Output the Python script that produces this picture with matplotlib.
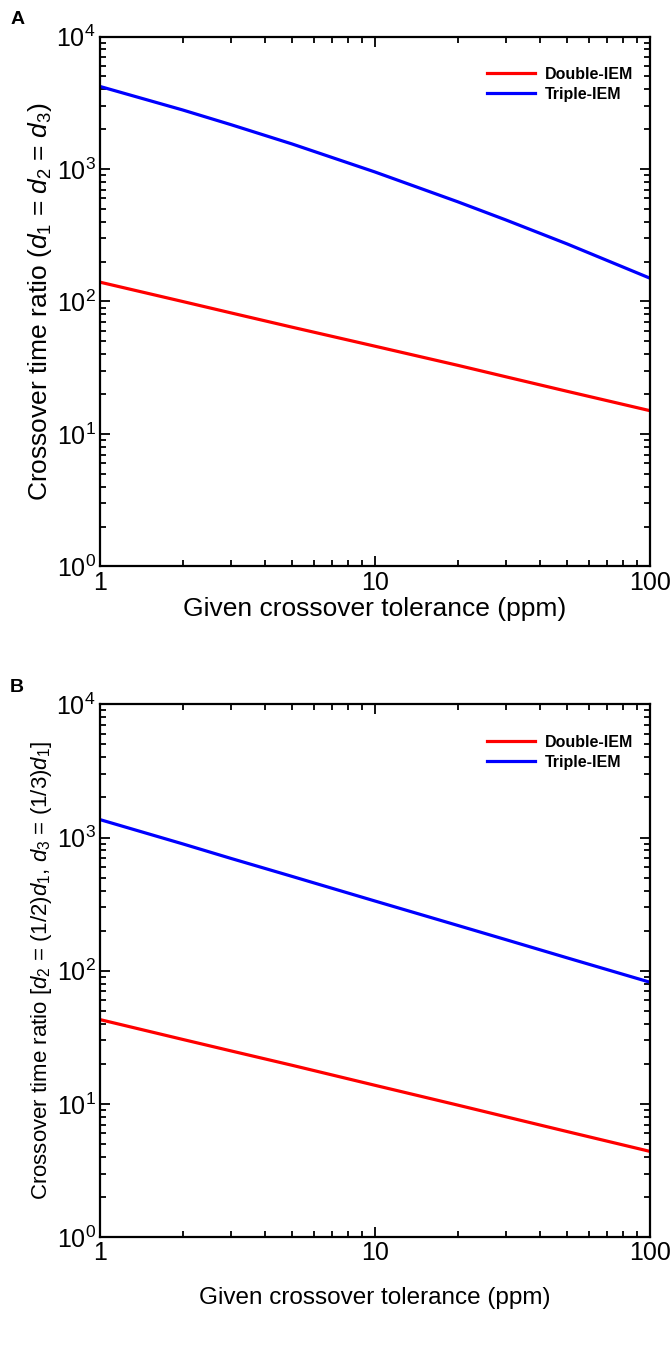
import numpy as np
import matplotlib
matplotlib.use('Agg')
import matplotlib.pyplot as plt
from matplotlib.ticker import LogLocator, NullFormatter, FixedLocator, FixedFormatter

plt.rcParams['font.family'] = ['Liberation Sans', 'DejaVu Sans']
plt.rcParams['mathtext.fontset'] = 'custom'
plt.rcParams['mathtext.rm'] = 'Liberation Sans'
plt.rcParams['mathtext.it'] = 'Liberation Sans:italic'

# tolerance (ppm)
tol = [1, 2, 3, 5, 10, 20, 30, 50, 100]

# panel A: d1 = d2 = d3
double_a = [140, 100, 82, 64, 46, 33, 27, 21, 15]
triple_a = [4200, 2790, 2160, 1545, 950, 566, 412, 272, 150]

# panel B: d2 = d1/2, d3 = d1/3
double_b = [43, 30.5, 25, 19.5, 13.8, 9.8, 8.0, 6.2, 4.4]
triple_b = [1365, 897, 697, 511, 334, 219, 171, 125, 82]

fig = plt.figure(figsize=(6.70, 13.52), dpi=100)
ax_a = fig.add_axes([0.149, 0.581, 0.821, 0.392])
ax_b = fig.add_axes([0.149, 0.085, 0.821, 0.394])

panels = [
    (ax_a, double_a, triple_a, r'Crossover time ratio ($d_{1}$ = $d_{2}$ = $d_{3}$)', 19, 19, 2),
    (ax_b, double_b, triple_b, r'Crossover time ratio [$d_{2}$ = (1/2)$d_{1}$, $d_{3}$ = (1/3)$d_{1}$]', 16, 17.5, 16),
]

for ax, dbl, trp, ylab, yfs, xfs, xpad in panels:
    ax.plot(tol, dbl, color='#ff0000', lw=2.3, label='Double-IEM')
    ax.plot(tol, trp, color='#0000ff', lw=2.3, label='Triple-IEM')
    ax.set_xscale('log')
    ax.set_yscale('log')
    ax.set_xlim(1, 100)
    ax.set_ylim(1, 1e4)
    ax.xaxis.set_major_locator(FixedLocator([1, 10, 100]))
    ax.xaxis.set_major_formatter(FixedFormatter(['1', '10', '100']))
    ax.xaxis.set_minor_locator(LogLocator(base=10, subs=np.arange(2, 10)))
    ax.xaxis.set_minor_formatter(NullFormatter())
    ax.yaxis.set_major_locator(LogLocator(base=10, numticks=10))
    ax.yaxis.set_minor_locator(LogLocator(base=10, subs=np.arange(2, 10), numticks=10))
    ax.yaxis.set_minor_formatter(NullFormatter())
    ax.tick_params(which='both', direction='in', top=True, right=True, width=1.3)
    ax.tick_params(which='major', length=7, labelsize=18, pad=3)
    ax.tick_params(which='minor', length=4)
    for s in ax.spines.values():
        s.set_linewidth(1.6)
    ax.set_xlabel('Given crossover tolerance (ppm)', fontsize=xfs, labelpad=xpad)
    ax.set_ylabel(ylab, fontsize=yfs, labelpad=2)
    ax.legend(loc='upper right', frameon=False, bbox_to_anchor=(0.995, 0.97),
              prop={'weight': 'bold', 'size': 11.5}, handlelength=3.0,
              handletextpad=0.6, labelspacing=0.3)

fig.text(0.015, 0.982, 'A', fontsize=14, fontweight='bold')
fig.text(0.015, 0.488, 'B', fontsize=14, fontweight='bold')

fig.savefig('out.png', dpi=100)
